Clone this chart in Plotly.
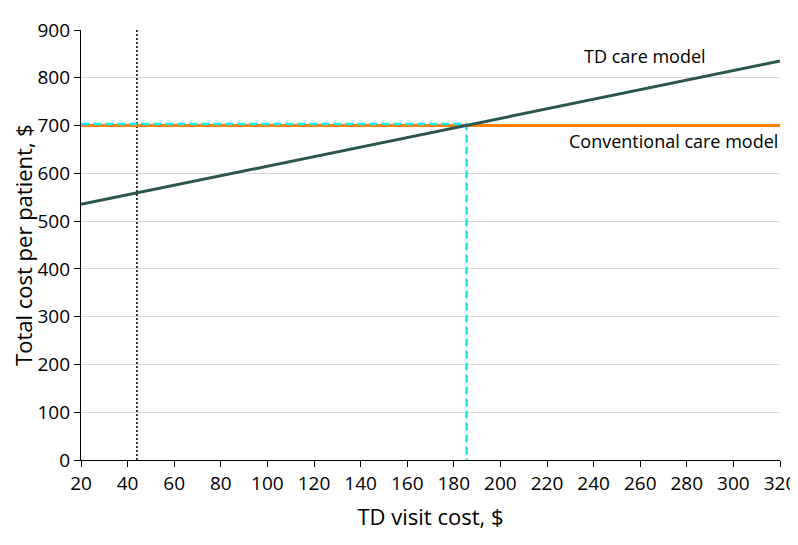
import plotly.graph_objects as go

x_visit = [20, 320]
td_cost = [535, 835]
conv_cost = [700, 700]
breakeven_x = 185.5
breakeven_y = 703
current_visit = 44
x_ticks = list(range(20, 321, 20))
y_ticks = list(range(0, 901, 100))

font_family = "Open Sans, Noto Sans, Arial"

fig = go.Figure()
fig.add_trace(go.Scatter(x=[current_visit, current_visit], y=[0, 900], mode="lines",
                         line=dict(color="black", width=1.5, dash="2px,2px"), showlegend=False))
fig.add_trace(go.Scatter(x=x_visit, y=conv_cost, mode="lines",
                         line=dict(color="#FF7F00", width=3), showlegend=False))
fig.add_trace(go.Scatter(x=[x_visit[0], breakeven_x, breakeven_x], y=[breakeven_y, breakeven_y, 0], mode="lines",
                         line=dict(color="#19E6F0", width=2.5, dash="8px,4px"), showlegend=False))
fig.add_trace(go.Scatter(x=x_visit, y=td_cost, mode="lines",
                         line=dict(color="#2A5650", width=3), showlegend=False))

fig.add_annotation(x=262, y=845, text="TD care model", showarrow=False, xanchor="center", yanchor="middle",
                   font=dict(size=18, color="black", family=font_family))
fig.add_annotation(x=320, y=667, text="Conventional care model", showarrow=False, xanchor="right", yanchor="middle",
                   font=dict(size=18, color="black", family=font_family))

fig.update_layout(
    width=790, height=529,
    margin=dict(l=73, r=18, t=22, b=77),
    plot_bgcolor="white", paper_bgcolor="white",
    font=dict(family=font_family, size=18, color="black"),
    xaxis=dict(range=[20, 320], tickvals=x_ticks, ticks="outside", ticklen=6, tickcolor="black",
               showline=True, linecolor="black", linewidth=1.2, showgrid=False, zeroline=False,
               automargin=False, ticklabeloverflow="allow",
               title=dict(text="TD visit cost, $", standoff=14), tickfont=dict(size=19)),
    yaxis=dict(range=[0, 900], tickvals=y_ticks, ticks="outside", ticklen=6, tickcolor="black",
               showline=True, linecolor="black", linewidth=1.2, showgrid=True, gridcolor="#D9D9D9",
               gridwidth=1.2, zeroline=False, automargin=False,
               title=dict(text="Total cost per patient, $", standoff=10),
               tickfont=dict(size=19)),
)
fig.write_html("out.html")
